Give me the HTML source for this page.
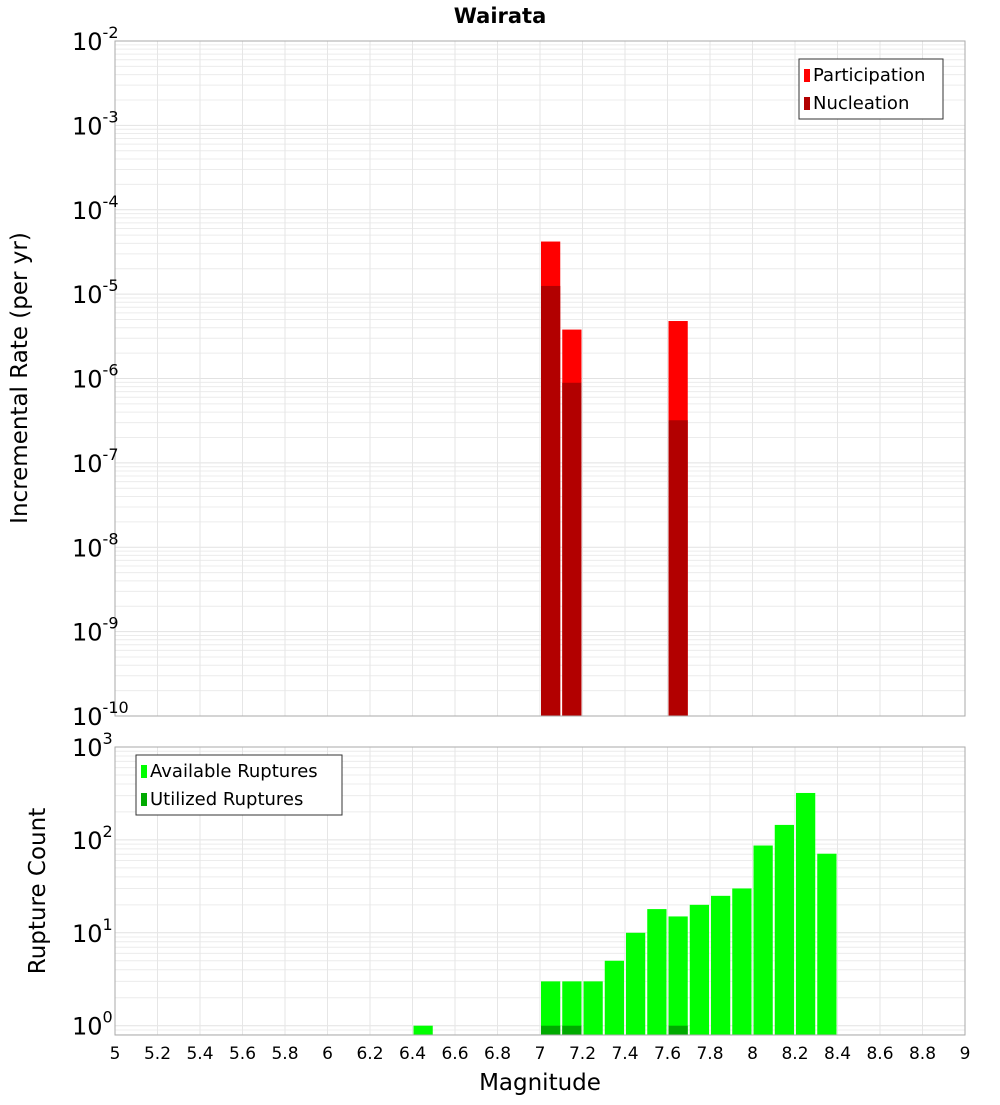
<!DOCTYPE html>
<html><head><meta charset="utf-8"><style>
body{margin:0;background:#fff;font-family:"Liberation Sans","DejaVu Sans",sans-serif}
svg text{font-family:"DejaVu Sans","Liberation Sans",sans-serif}
</style></head><body>
<svg id="c" width="1000" height="1100" xmlns="http://www.w3.org/2000/svg">
<text x="500" y="23" text-anchor="middle" font-size="21" font-weight="bold">Wairata</text>
<g id="topPlot"></g>
<g id="botPlot"></g>
<text transform="translate(27,378) rotate(-90)" text-anchor="middle" font-size="23">Incremental Rate (per yr)</text>
<text transform="translate(45,891) rotate(-90)" text-anchor="middle" font-size="23">Rupture Count</text>
<text x="540" y="1090" text-anchor="middle" font-size="23">Magnitude</text>
</svg>
<script>
const partMags=[7.05,7.15,7.65];
const partRates=[4.2e-5,3.8e-6,4.8e-6];
const nuclMags=[7.05,7.15,7.65];
const nuclRates=[1.25e-5,8.9e-7,3.2e-7];
const availMags=[6.45,7.05,7.15,7.25,7.35,7.45,7.55,7.65,7.75,7.85,7.95,8.05,8.15,8.25,8.35];
const availCounts=[1,3,3,3,5,10,18,15,20,25,30,87,145,320,71];
const usedMags=[7.05,7.15,7.65];
const usedCounts=[1,1,1];
const xTicks=[5,5.2,5.4,5.6,5.8,6,6.2,6.4,6.6,6.8,7,7.2,7.4,7.6,7.8,8,8.2,8.4,8.6,8.8,9];
const topExps=[-2,-3,-4,-5,-6,-7,-8,-9,-10];
const botExps=[3,2,1,0];

const NS="http://www.w3.org/2000/svg";
const L=115,R=965;
const x=m=>L+(m-5)/4*(R-L);
const yT=v=>41+(-2-Math.log10(v))*84.375;
const yB=v=>1025.7-Math.log10(v)*92.9;
function mk(p,t,a){const e=document.createElementNS(NS,t);for(const k in a)e.setAttribute(k,a[k]);p.appendChild(e);return e;}
const gTop=document.getElementById('topPlot'),gBot=document.getElementById('botPlot');

function grid(g,y0,y1,yf,dmin,dmax){
  for(let d=dmin;d<dmax;d++)for(let k=1;k<10;k++){const yy=yf(k*Math.pow(10,d));if(yy<y0-0.5||yy>y1+0.5)continue;
    const l=mk(g,'line',{x1:L,x2:R,y1:yy,y2:yy,stroke:k==1?'#e2e2e2':'#ececec','stroke-width':1});
    
    }
  xTicks.forEach(t=>{const l=mk(g,'line',{x1:x(t),x2:x(t),y1:y0,y2:y1,stroke:'#e6e6e6'});
    
    });
}
grid(gTop,41,716,yT,-10,-2);
grid(gBot,747,1035,yB,-1,3);

function bars(g,mags,vals,yf,base,col,name){
  mags.forEach((m,i)=>{const x0=x(m-0.05)+1,x1=x(m+0.05)-1,yy=yf(vals[i]);
    const r=mk(g,'rect',{x:x0,y:yy,width:x1-x0,height:base-yy,fill:col});
    
    });
}
bars(gTop,partMags,partRates,yT,716,'#ff0000','participation-bar');
bars(gTop,nuclMags,nuclRates,yT,716,'#b20000','nucleation-bar');
bars(gBot,availMags,availCounts,yB,1035,'#00ff00','available-bar');
bars(gBot,usedMags,usedCounts,yB,1035,'#00aa00','utilized-bar');

let f=mk(gTop,'rect',{x:L,y:41,width:R-L,height:675,fill:'none',stroke:'#aaa'});


f=mk(gBot,'rect',{x:L,y:747,width:R-L,height:288,fill:'none',stroke:'#aaa'});



function ylab(g,e,yy){const t=mk(g,'text',{x:72,y:yy+9,'font-size':24});t.textContent='10';
  const s=mk(t,'tspan',{dy:-12,'font-size':16});s.textContent=String(e);
  
  }
topExps.forEach(e=>ylab(gTop,e,yT(Math.pow(10,e))));
botExps.forEach(e=>ylab(gBot,e,yB(Math.pow(10,e))));
xTicks.forEach(t=>{const tx=mk(gBot,'text',{x:x(t),y:1059,'text-anchor':'middle','font-size':17});
  tx.textContent=String(t);
  
  });

function legend(g,x0,y0,w,items){const b=mk(g,'rect',{x:x0,y:y0,width:w,height:60,fill:'#fff',stroke:'#333'});
  
  
  items.forEach((it,i)=>{const r=mk(g,'rect',{x:x0+5,y:y0+10+i*28,width:6,height:13,fill:it[1]});
    
    
    const t=mk(g,'text',{x:x0+14,y:y0+22+i*28,'font-size':18});t.textContent=it[0];
    
    });}
legend(gTop,799,59,144,[['Participation','#ff0000'],['Nucleation','#b20000']]);
legend(gBot,136,755,206,[['Available Ruptures','#00ff00'],['Utilized Ruptures','#00aa00']]);
</script>
</body></html>
